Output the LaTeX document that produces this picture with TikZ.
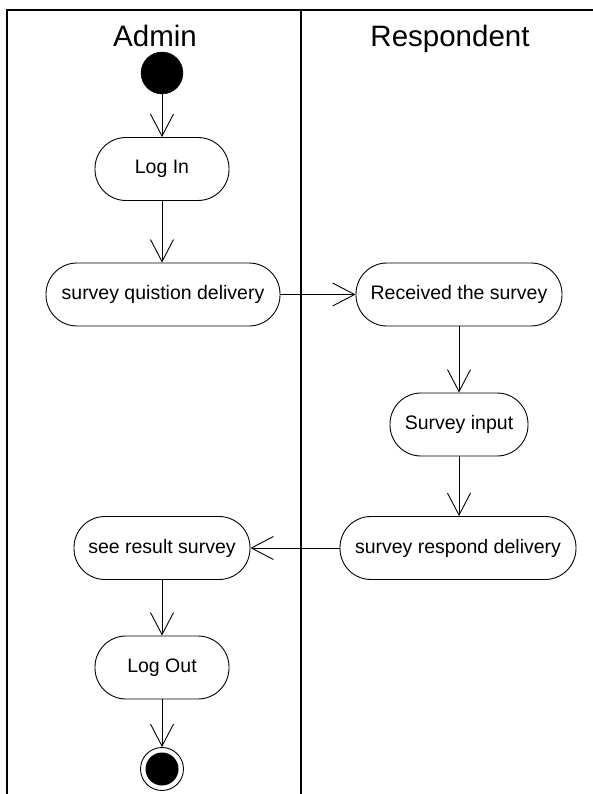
\documentclass[tikz,border=0pt]{standalone}
\usepackage{fontspec}
\setmainfont{Liberation Sans}
\usetikzlibrary{positioning, calc, arrows.meta}

\tikzset{
  activity/.style={draw, line width=0.9pt, rounded corners=31pt, minimum height=63pt, inner sep=0pt, font=\fontsize{19.5}{22}\selectfont},
  initial/.style={circle, fill=black, draw, minimum size=42pt, inner sep=0pt},
  final/.style={circle, draw, line width=0.9pt, minimum size=43pt, inner sep=0pt, path picture={\fill (path picture bounding box.center) circle[radius=16.5pt];}},
  lane/.style={font=\fontsize{29.5}{34}\selectfont, anchor=base},
  flow/.style={line width=0.9pt, -{Straight Barb[length=22pt,width=23pt,line width=0.9pt]}}
}

\begin{document}
\begin{tikzpicture}[x=1pt, y=-1pt]
      \useasboundingbox (0,0) rectangle (593,794);
      \draw[line width=1.6pt] (7,794)--(7,10)--(593,10);
      \draw[line width=1.6pt] (301,10)--(301,794);
      \node[lane] (admin) at (155,47) {Admin};
      \node[lane] (respondent) at (450,47) {Respondent};
      \node[initial] (start) at (162,73) {};
      \node[activity, minimum width=134pt] (login) at (162,169) {Log In};
      \node[activity, minimum width=234pt] (delivery) at (163,294.5) {survey quistion delivery};
      \node[activity, minimum width=206pt] (received) at (459,294.5) {Received the survey};
      \node[activity, minimum width=138pt] (input) at (459,424.5) {Survey input};
      \node[activity, minimum width=236pt] (respond) at (458,548) {survey respond delivery};
      \node[activity, minimum width=176pt] (result) at (162,548) {see result survey};
      \node[activity, minimum width=134pt] (logout) at (162,667.5) {Log Out};
      \node[final] (finish) at (162,769) {};
      \draw[flow] (start)--(login);
      \draw[flow] (login)--(login|-delivery.north);
      \draw[flow] (delivery)--(received);
      \draw[flow] (received)--(received|-input.north);
      \draw[flow] (input)--(input|-respond.north);
      \draw[flow] (respond)--(result);
      \draw[flow] (result)--(logout);
      \draw[flow] (logout)--(finish);
    \end{tikzpicture}
\end{document}
